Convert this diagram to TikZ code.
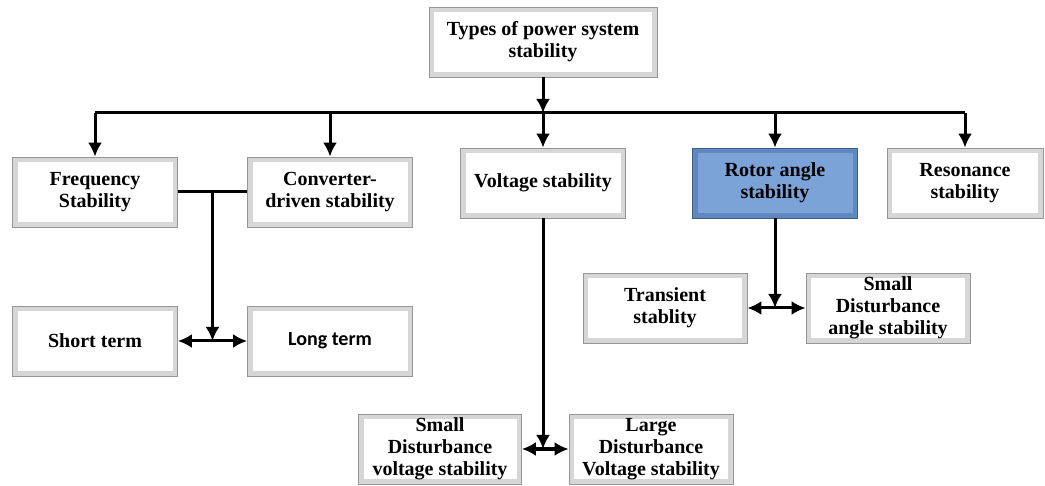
\documentclass[tikz,border=0pt]{standalone}
\usepackage{fontspec}
\setmainfont{Liberation Serif}
\newfontfamily\calibrifont{Carlito}
\usetikzlibrary{arrows.meta,calc}
\definecolor{bandgray}{RGB}{214,214,214}
\definecolor{edgegray}{RGB}{150,150,150}
\definecolor{rotorfill}{RGB}{124,163,216}
\definecolor{rotorband}{RGB}{95,135,192}
\definecolor{rotorline}{RGB}{62,92,140}
\tikzset{
	panel/.style 2 args={fill=#1,
		path picture={\fill[#2] ([shift={(5pt,-5pt)}]path picture bounding box.north west) rectangle ([shift={(-5pt,5pt)}]path picture bounding box.south east);}},
	stab/.style={panel={bandgray}{white}, draw=edgegray, line width=0.8pt, align=center, inner sep=0pt,
		minimum width=165pt, minimum height=70pt, font=\bfseries\fontsize{20}{22}\selectfont},
	rotorstab/.style={stab, panel={rotorband}{rotorfill}, draw=rotorline},
	link/.style={line width=3pt}
}
\begin{document}
\begin{tikzpicture}[>={Latex[length=14pt,width=14pt]},x=1pt,y=-1pt]
			\useasboundingbox (0,0) rectangle (1045,486);
			% top level
			\node[stab,minimum width=228pt] (types) at (543,42) {Types of power system\\stability};
			\node[stab] (freq) at (95,192) {Frequency\\Stability};
			\node[stab] (conv) at (330,192) {Converter-\\driven stability};
			\node[stab] (volt) at (543,183) {Voltage stability};
			\node[rotorstab] (rotor) at (775,183) {Rotor angle\\stability};
			\node[stab,minimum width=156pt] (reson) at (965,183) {Resonance\\stability};
			% second level
			\node[stab] (short) at (95,341) {Short term};
			\node[stab,font=\calibrifont\bfseries\fontsize{20}{22}\selectfont] (long) at (330,341) {Long term};
			\node[stab,minimum width=164pt] (trans) at (665,308) {Transient\\stablity};
			\node[stab,minimum width=164pt] (sangle) at (888,308) {Small\\Disturbance\\angle stability};
			\node[stab,minimum width=163pt] (svolt) at (440,449) {Small\\Disturbance\\voltage stability};
			\node[stab,minimum width=164pt] (lvolt) at (651,449) {Large\\Disturbance\\Voltage stability};
			% connectors
			\coordinate (bus) at (543,113);
			\draw[link] (freq.north |- bus) -- (reson.north |- bus);
			\draw[link,->] (types.south) -- (bus);
			\draw[link,->] (bus) -- (volt.north);
			\foreach \n in {freq,conv,rotor,reson}
				\draw[link,->] (\n.north |- bus) -- (\n.north);
			\coordinate (fcmid) at ($(freq.east)!0.5!(conv.west)$);
			\draw[link] (freq.east) -- (conv.west);
			\draw[link,->] (fcmid) -- (fcmid |- short.east);
			\draw[link,<->] (short.east) -- (long.west);
			\draw[link,->] (rotor.south) -- (rotor.south |- trans.east);
			\draw[link,<->] (trans.east) -- (sangle.west);
			\draw[link,->] (volt.south) -- (volt.south |- svolt.east);
			\draw[link,<->] (svolt.east) -- (lvolt.west);
\end{tikzpicture}
\end{document}
